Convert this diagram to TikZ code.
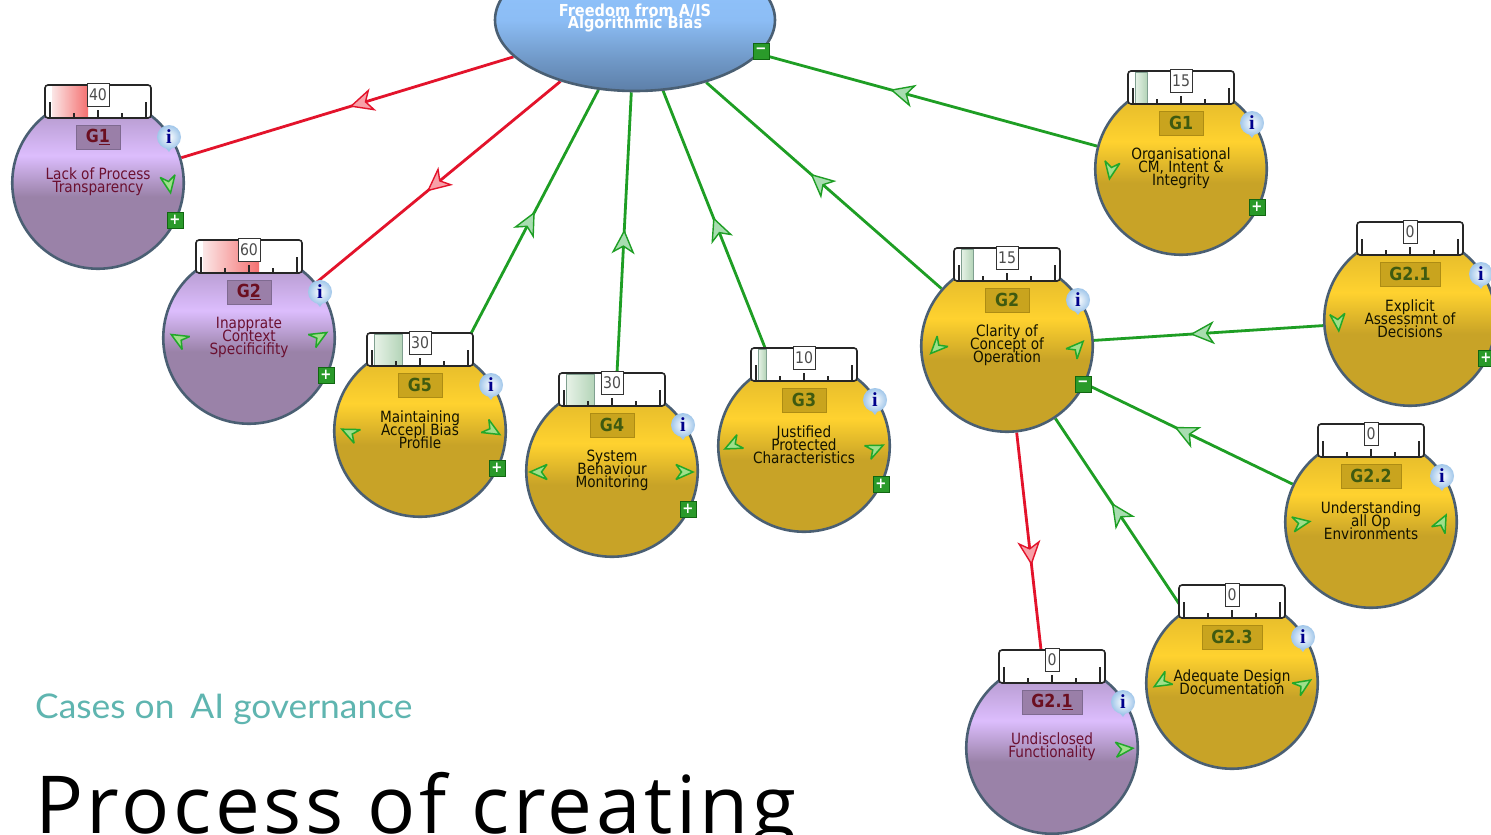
\documentclass[tikz,border=0pt]{standalone}
\usepackage{fontspec}
\setmainfont[FakeStretch=0.88]{DejaVu Sans}
\newfontfamily\titlefont[LetterSpace=4.5]{Open Sans}
\newfontfamily\subfont[FakeStretch=1.04]{Lato}
\newfontfamily\serifb{Liberation Serif}
\usetikzlibrary{backgrounds,decorations.markings,shapes.geometric}
\definecolor{conngreen}{HTML}{1E9E24}
\definecolor{connred}{HTML}{E3132B}
\definecolor{rim}{HTML}{4A5F73}
\definecolor{goalbox}{HTML}{C9A41E}
\definecolor{goalboxb}{HTML}{AD8C14}
\definecolor{goallab}{HTML}{3F5A10}
\definecolor{riskbox}{HTML}{9A7FA8}
\definecolor{riskboxb}{HTML}{7F6A90}
\definecolor{risklab}{HTML}{6B0F20}
\definecolor{risktext}{HTML}{6B1030}
\definecolor{goaltext}{HTML}{141400}
\definecolor{btn}{HTML}{2A9A2A}
\definecolor{btnb}{HTML}{116611}
\definecolor{marky}{HTML}{22A82A}
\definecolor{markf}{HTML}{9FE08A}
\definecolor{teal}{HTML}{5FB5B0}
\definecolor{infoedge}{HTML}{A0C6EA}
\definecolor{greenhead}{HTML}{A8DDB0}
\definecolor{redhead}{HTML}{F8A0A8}
\definecolor{redlo}{HTML}{FBE6E6}
\definecolor{redhi}{HTML}{F47070}
\definecolor{grnlo}{HTML}{E8F3E8}
\definecolor{grnhi}{HTML}{B4D4B8}
\definecolor{grnedge}{HTML}{7F9F8F}
\definecolor{golddark}{HTML}{C8A327}
\definecolor{goldbright}{HTML}{FFD22F}
\definecolor{goldtop}{HTML}{DCB42A}
\definecolor{purpdark}{HTML}{9A82A8}
\definecolor{purpbright}{HTML}{DCBDFD}
\definecolor{purptop}{HTML}{A98FBF}
\definecolor{blueA}{HTML}{5D7FA8}
\definecolor{blueB}{HTML}{6E96C4}
\definecolor{blueC}{HTML}{8CBDF5}
\definecolor{blueD}{HTML}{92C6FF}
\pgfdeclareverticalshading{goldshade}{100bp}{color(0bp)=(golddark);color(25bp)=(golddark);color(46bp)=(golddark);color(58bp)=(goldbright);color(75bp)=(goldtop);color(100bp)=(goldtop)}
\pgfdeclareverticalshading{purpshade}{100bp}{color(0bp)=(purpdark);color(25bp)=(purpdark);color(46bp)=(purpdark);color(58bp)=(purpbright);color(75bp)=(purptop);color(100bp)=(purptop)}
\pgfdeclareverticalshading{blueshade}{100bp}{color(0bp)=(blueA);color(25bp)=(blueA);color(35bp)=(blueB);color(50bp)=(blueC);color(75bp)=(blueD);color(100bp)=(blueD)}
\newcommand{\tightlines}{\setlength{\lineskiplimit}{-100pt}\setlength{\lineskip}{0pt}}
\AtBeginDocument{\tightlines}
\newcommand{\goalfont}{\fontsize{15.5}{13}\selectfont\tightlines}
\newcommand{\rootfont}{\fontsize{16.5}{12.5}\selectfont\bfseries\tightlines}
\tikzset{
  ball/.style={circle,draw=rim,line width=2.6pt,minimum size=171.5pt,inner sep=0pt},
  goldball/.style={ball,shading=goldshade},
  purpball/.style={ball,shading=purpshade},
  rootnode/.style={ellipse,draw=rim,line width=2.6pt,minimum width=280pt,minimum height=142pt,inner sep=0pt,shading=blueshade},
  goaltxt/.style={align=center,inner sep=0pt,font=\goalfont},
  labbox/.style={minimum height=24pt,inner sep=0pt,font=\fontsize{18}{18}\selectfont\bfseries,line width=1pt},
  valbox/.style={draw=black!80,fill=white,line width=1pt,minimum height=23pt,inner sep=0pt,text=black!70,font=\fontsize{16}{16}\selectfont},
  gaugebox/.style={draw=black!85,line width=1.6pt,rounded corners=3pt},
  tick/.style={draw=black!85,line width=1.4pt},
  btnnode/.style={draw=btnb,fill=btn,line width=1pt,minimum size=16pt,inner sep=0pt,text=white,font=\fontsize{15}{15}\selectfont\bfseries},
  infoball/.style={circle,minimum size=24pt,inner sep=0pt,shading=radial,inner color=white,outer color=infoedge,text=blue!55!black,font=\serifb\bfseries\fontsize{20}{20}\selectfont},
  conn/.style={line width=2.8pt},
  greenconn/.style={conn,draw=conngreen,postaction={decorate,decoration={markings,mark=at position #1 with {\filldraw[draw=conngreen,fill=greenhead,line width=1.4pt] (10,0)--(-11,-10)--(-5,0)--(-11,10)--cycle;}}}},
  redconn/.style={conn,draw=connred,postaction={decorate,decoration={markings,mark=at position #1 with {\filldraw[draw=connred,fill=redhead,line width=1.4pt] (10,0)--(-11,-10)--(-5,0)--(-11,10)--cycle;}}}},
  redfill/.style={left color=redlo,right color=redhi},
  grnfill/.style={left color=grnlo,right color=grnhi,draw=grnedge,line width=0.8pt},
}
\newcommand{\innermark}[3]{\begin{scope}[shift={(#1,#2)},rotate=#3]\filldraw[draw=marky,fill=markf,line width=1.5pt,miter limit=3] (9,0)--(-8,-7.5)--(-2.5,0)--(-8,7.5)--cycle;\end{scope}}
% id, cx, cy, ball style, label command, text options, value-box width, value, gauge fill
\newcommand{\goalnode}[9]{%
  \begin{scope}[shift={(#2,#3)}]
    \node[#4] (#1) at (0,0) {};
    \fill[white] (-52,-97) rectangle (52,-65);
    #9
    \draw[gaugebox] (-53,-65) -- (-53,-98) -- (53,-98) -- (53,-65) -- cycle;
    \draw[tick] (-48,-65) -- (-48,-81);
    \draw[tick] (48,-65) -- (48,-81);
    \draw[tick] (-24,-65) -- (-24,-70);
    \draw[tick] (24,-65) -- (24,-70);
    \draw[tick] (0,-65) -- (0,-73);
    \node[valbox,minimum width=#7] (#1val) at (0,-88) {#8};
    #5
    \node[goaltxt,#6] (#1txt) at (0,-1) {\csname gt#1\endcsname};
    \fill[infoedge] (66,-37)--(75,-37)--(71,-31)--cycle;
    \node[infoball] (#1info) at (71,-46) {i};
  \end{scope}}
\newcommand{\goldlab}[2]{\node[labbox,fill=goalbox,draw=goalboxb,text=goallab,minimum width=#2] (#1lab) at (0,-46) {\csname lb#1\endcsname};}
\newcommand{\purplab}[2]{\node[labbox,fill=riskbox,draw=riskboxb,text=risklab,minimum width=#2] (#1lab) at (0,-46) {\csname lb#1\endcsname};}
\newcommand{\btn}[4]{\node[btnnode] (#1) at (#2,#3) {#4};}
\begin{document}
\begin{tikzpicture}[x=1pt,y=-1pt]
\useasboundingbox (0,0) rectangle (1491,835);
\clip (0,0) rectangle (1491,835);
\begin{pgfonlayer}{background}
\fill[white] (0,0) rectangle (1491,835);
\end{pgfonlayer}
% root
\node[rootnode] (root) at (635,20) {};
\node[align=center,inner sep=0pt,text=white,font=\rootfont] (roottxt) at (635,18) {Freedom from A/IS\\Algorithmic Bias};
\btn{rootbtn}{761}{51}{−}
% goals
\expandafter\def\csname gtga\endcsname{Lack of Process\\Transparency}
\expandafter\def\csname lbga\endcsname{G\underline{1}}
\goalnode{ga}{98}{183}{purpball}{\purplab{ga}{44pt}}{text=risktext}{22pt}{40}{\shade[redfill] (-46,-96.5) rectangle (-10,-66);}
\expandafter\def\csname gtgb\endcsname{Inapprate\\Context\\Specificifity}
\expandafter\def\csname lbgb\endcsname{G\underline{2}}
\goalnode{gb}{249}{338}{purpball}{\purplab{gb}{44pt}}{text=risktext}{22pt}{60}{\shade[redfill] (-46,-96.5) rectangle (10,-66);}
\expandafter\def\csname gtgc\endcsname{Maintaining\\Accepl Bias\\Profile}
\expandafter\def\csname lbgc\endcsname{G5}
\goalnode{gc}{420}{431}{goldball}{\goldlab{gc}{44pt}}{text=goaltext}{22pt}{30}{\shade[grnfill] (-46,-96.5) rectangle (-18,-66);}
\expandafter\def\csname gtgd\endcsname{System\\Behaviour\\Monitoring}
\expandafter\def\csname lbgd\endcsname{G4}
\goalnode{gd}{612}{471}{goldball}{\goldlab{gd}{44pt}}{text=goaltext}{22pt}{30}{\shade[grnfill] (-46,-96.5) rectangle (-18,-66);}
\expandafter\def\csname gtge\endcsname{Justified\\Protected\\Characteristics}
\expandafter\def\csname lbge\endcsname{G3}
\goalnode{ge}{804}{446}{goldball}{\goldlab{ge}{44pt}}{text=goaltext}{22pt}{10}{\shade[grnfill] (-46,-96.5) rectangle (-38,-66);}
\expandafter\def\csname gtgf\endcsname{Clarity of\\Concept of\\Operation}
\expandafter\def\csname lbgf\endcsname{G2}
\goalnode{gf}{1007}{346}{goldball}{\goldlab{gf}{44pt}}{text=goaltext}{22pt}{15}{\shade[grnfill] (-46,-96.5) rectangle (-34,-66);}
\expandafter\def\csname gtgg\endcsname{Organisational\\CM, Intent \&\\Integrity}
\expandafter\def\csname lbgg\endcsname{G1}
\goalnode{gg}{1181}{169}{goldball}{\goldlab{gg}{44pt}}{text=goaltext}{22pt}{15}{\shade[grnfill] (-46,-96.5) rectangle (-34,-66);}
\expandafter\def\csname gtgh\endcsname{Explicit\\Assessmnt of\\Decisions}
\expandafter\def\csname lbgh\endcsname{G2.1}
\goalnode{gh}{1410}{320}{goldball}{\goldlab{gh}{60pt}}{text=goaltext}{14pt}{0}{}
\expandafter\def\csname gtgi\endcsname{Understanding\\all Op\\Environments}
\expandafter\def\csname lbgi\endcsname{G2.2}
\goalnode{gi}{1371}{522}{goldball}{\goldlab{gi}{60pt}}{text=goaltext}{14pt}{0}{}
\expandafter\def\csname gtgj\endcsname{Adequate Design\\Documentation}
\expandafter\def\csname lbgj\endcsname{G2.3}
\goalnode{gj}{1232}{683}{goldball}{\goldlab{gj}{60pt}}{text=goaltext}{14pt}{0}{}
\expandafter\def\csname gtgk\endcsname{Undisclosed\\Functionality}
\expandafter\def\csname lbgk\endcsname{G2.\underline{1}}
\goalnode{gk}{1052}{748}{purpball}{\purplab{gk}{60pt}}{text=risktext}{14pt}{0}{}
% buttons
\btn{gab}{175}{220}{+}
\btn{gbb}{326}{375}{+}
\btn{gcb}{497}{468}{+}
\btn{gdb}{688}{509}{+}
\btn{geb}{881}{484}{+}
\btn{gfb}{1083}{384}{−}
\btn{ggb}{1257}{207}{+}
\btn{ghb}{1486}{358}{+}
% inner arrow marks
\innermark{169}{184}{-80}
\innermark{179}{339}{150}
\innermark{319}{337}{30}
\innermark{350}{433}{155}
\innermark{492}{430}{-30}
\innermark{539}{472}{180}
\innermark{684}{472}{0}
\innermark{733}{445}{206}
\innermark{875}{449}{25}
\innermark{937}{347}{226}
\innermark{1077}{348}{47}
\innermark{1111}{170}{-100}
\innermark{1338}{322}{-85}
\innermark{1301}{523}{10}
\innermark{1442}{523}{63}
\innermark{1162}{682}{211}
\innermark{1303}{685}{33}
\innermark{1124}{749}{5}
% connectors
\begin{pgfonlayer}{background}
\draw[redconn=0.46] (root) -- (ga);
\draw[redconn=0.51] (root) -- (gb);
\draw[greenconn=0.50] (gc) -- (root);
\draw[greenconn=0.49] (gd) -- (root);
\draw[greenconn=0.50] (ge) -- (root);
\draw[greenconn=0.52] (gf) -- (root);
\draw[greenconn=0.58] (gg) -- (root);
\draw[greenconn=0.53] (gh) -- (gf);
\draw[greenconn=0.52] (gi) -- (gf);
\draw[greenconn=0.51] (gj) -- (gf);
\draw[redconn=0.53] (gf) -- (gk);
\end{pgfonlayer}
% slide text
\node[anchor=base west,inner sep=0pt,text=teal,font=\subfont\fontsize{34}{34}\selectfont] (sub) at (35,718) {Cases on\hspace{0.2em} AI governance};
\node[anchor=base west,inner sep=0pt,text=black,font=\titlefont\fontsize{80}{80}\selectfont] (title) at (35,833) {Process of creating};
\end{tikzpicture}
\end{document}
